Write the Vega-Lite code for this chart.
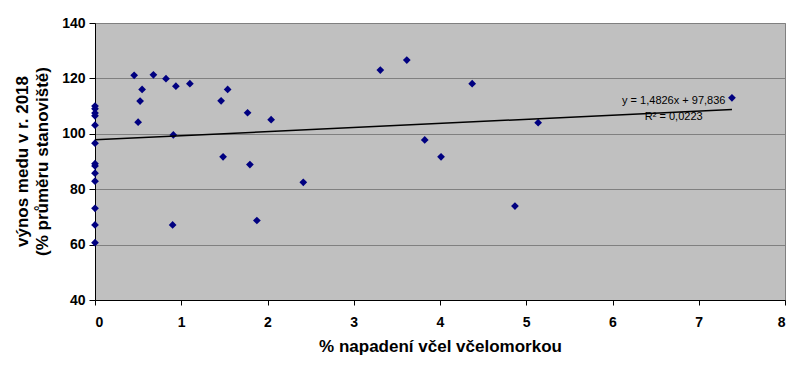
{
  "$schema": "https://vega.github.io/schema/vega-lite/v6.json",
  "width": 690,
  "height": 277,
  "autosize": {"type": "none"},
  "padding": {"left": 95, "top": 23, "right": 15, "bottom": 81},
  "background": "white",
  "config": {
    "font": "Liberation Sans",
    "view": {"fill": "#C0C0C0", "stroke": "#808080", "strokeWidth": 1}
  },
  "datasets": {
    "pts": [
      {"x": 0, "y": 110}, {"x": 0, "y": 109}, {"x": 0, "y": 107.5}, {"x": 0, "y": 106.5},
      {"x": 0, "y": 103.1}, {"x": 0, "y": 96.6}, {"x": 0, "y": 89.2}, {"x": 0, "y": 88.4},
      {"x": 0, "y": 85.8}, {"x": 0, "y": 82.9}, {"x": 0, "y": 73.1}, {"x": 0, "y": 67.1},
      {"x": 0, "y": 60.7},
      {"x": 0.454, "y": 121.1}, {"x": 0.677, "y": 121.3}, {"x": 0.823, "y": 119.9},
      {"x": 0.938, "y": 117.2}, {"x": 1.1, "y": 118.1}, {"x": 0.546, "y": 116.0},
      {"x": 0.523, "y": 111.8}, {"x": 0.5, "y": 104.2}, {"x": 0.908, "y": 99.6},
      {"x": 0.9, "y": 67.1}, {"x": 1.462, "y": 111.9}, {"x": 1.538, "y": 116.0},
      {"x": 1.485, "y": 91.7}, {"x": 1.769, "y": 107.6}, {"x": 1.796, "y": 88.9},
      {"x": 1.877, "y": 68.7}, {"x": 2.042, "y": 105.1}, {"x": 2.415, "y": 82.5},
      {"x": 3.308, "y": 123.0}, {"x": 3.615, "y": 126.6}, {"x": 4.373, "y": 118.1},
      {"x": 3.823, "y": 97.8}, {"x": 4.012, "y": 91.7}, {"x": 4.869, "y": 73.9},
      {"x": 5.138, "y": 104.0}, {"x": 7.385, "y": 113.0}
    ],
    "trend": [
      {"x": 0, "y": 97.836},
      {"x": 7.385, "y": 108.785}
    ],
    "labels": [
      {"x": 6.71, "y": 111.7, "t": "y = 1,4826x + 97,836"},
      {"x": 6.71, "y": 106.0, "t": "R² = 0,0223"}
    ]
  },
  "layer": [
    {
      "data": {"name": "pts"},
      "mark": {"type": "point", "shape": "diamond", "filled": true, "color": "#000080", "size": 60, "opacity": 1},
      "encoding": {
        "x": {
          "field": "x", "type": "quantitative",
          "scale": {"domain": [0, 8], "nice": false},
          "axis": {
            "values": [0, 1, 2, 3, 4, 5, 6, 7, 8],
            "format": "d",
            "grid": false,
            "domainColor": "#000000",
            "tickColor": "#000000",
            "tickSize": 5,
            "labelFontSize": 14,
            "labelFontWeight": "bold",
            "labelColor": "#000000",
            "labelPadding": 10,
            "title": "% napadení včel včelomorkou",
            "titleFontSize": 17,
            "titleFontWeight": "bold",
            "titleColor": "#000000",
            "titlePadding": 9
          }
        },
        "y": {
          "field": "y", "type": "quantitative",
          "scale": {"domain": [40, 140], "nice": false, "zero": false},
          "axis": {
            "values": [40, 60, 80, 100, 120, 140],
            "format": "d",
            "grid": true,
            "gridColor": "#808080",
            "gridOpacity": 1,
            "domainColor": "#000000",
            "tickColor": "#000000",
            "tickSize": 6,
            "labelFontSize": 14,
            "labelFontWeight": "bold",
            "labelColor": "#000000",
            "labelPadding": 4,
            "title": ["výnos medu v r. 2018", "(% průměru stanoviště)"],
            "titleFontSize": 17,
            "titleFontWeight": "bold",
            "titleColor": "#000000",
            "titleX": -73,
            "titleY": 138,
            "titleAlign": "center",
            "titleBaseline": "middle",
            "titleLineHeight": 20
          }
        }
      }
    },
    {
      "data": {"name": "trend"},
      "mark": {"type": "line", "color": "#000000", "strokeWidth": 1.5},
      "encoding": {
        "x": {"field": "x", "type": "quantitative"},
        "y": {"field": "y", "type": "quantitative"}
      }
    },
    {
      "data": {"name": "labels"},
      "mark": {"type": "text", "fontSize": 11, "color": "#000000", "align": "center", "baseline": "middle"},
      "encoding": {
        "x": {"field": "x", "type": "quantitative"},
        "y": {"field": "y", "type": "quantitative"},
        "text": {"field": "t"}
      }
    }
  ]
}
